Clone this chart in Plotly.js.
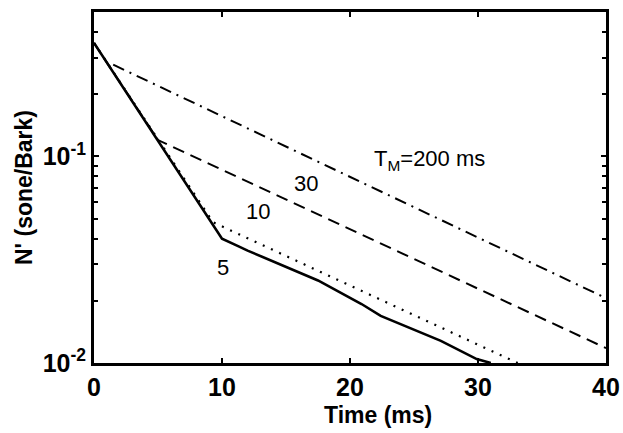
<!DOCTYPE html>
<html>
<head>
<meta charset="utf-8">
<script src="https://cdn.plot.ly/plotly-3.0.1.min.js"></script>
<style>html,body{margin:0;padding:0;background:#fff;}#chart{width:623px;height:433px;}</style>
</head>
<body>
<div id="chart"></div>
<script>
// Time axis (ms) and N' (sone/Bark) values
const time5 = [0, 10, 11.3, 12, 17.5, 20.9, 22.4, 27.1, 29.9, 31.0];
const n5 = [0.354, 0.040, 0.0367, 0.035, 0.0251, 0.0193, 0.0169, 0.0128, 0.01045, 0.0100];
const time10 = [0, 9.3, 33.1];
const n10 = [0.354, 0.048, 0.0100];
const time30 = [0, 5.0, 40];
const n30 = [0.354, 0.120, 0.0118];
const time200 = [1.5, 40];
const n200 = [0.278, 0.0206];

const xTicks = [0, 10, 20, 30, 40];
const yTickVals = [0.01, 0.1];
const yTickText = ['10<sup>-2</sup>', '10<sup>-1</sup>'];
const yMinorVals = [0.02,0.03,0.04,0.05,0.06,0.07,0.08,0.09,0.2,0.3,0.4];

const labels = [
  {text: '30', t: 16.6, n: 0.0741},
  {text: '10', t: 12.8, n: 0.0542},
  {text: '5', t: 10.1, n: 0.0289},
  {text: 'T<sub>M</sub>=200 ms', t: 26.2, n: 0.0965}
];
const xTitle = 'Time (ms)';
const yTitle = "N' (sone/Bark)";

const FONT = 'Liberation Sans, Arial, sans-serif';

const traces = [
  {x: time200, y: n200, mode: 'lines', line: {color: '#000', width: 2, dash: '12px,6px,2px,6px'}},
  {x: time30, y: n30, mode: 'lines', line: {color: '#000', width: 2, dash: '12px,7px'}},
  {x: time10, y: n10, mode: 'lines', line: {color: '#000', width: 2.2, dash: '2px,7px'}},
  {x: time5, y: n5, mode: 'lines', line: {color: '#000', width: 2.6}}
];

const layout = {
  width: 623, height: 433,
  margin: {l: 93.5, r: 16.5, t: 11.5, b: 70},
  paper_bgcolor: '#fff', plot_bgcolor: '#fff',
  showlegend: false,
  font: {family: FONT, color: '#000'},
  xaxis: {
    range: [0, 40], tickvals: xTicks, ticks: 'inside', ticklen: 5, tickwidth: 1.5, tickcolor: '#000',
    showline: true, linecolor: '#000', linewidth: 2.8, mirror: 'allticks', showgrid: false, zeroline: false,
    tickfont: {size: 25, family: FONT, color: '#000', weight: 'bold'}
  },
  yaxis: {
    type: 'log', range: [-2, Math.log10(0.5)], tickvals: yTickVals, ticktext: yTickText,
    ticks: 'inside', ticklen: 5, tickwidth: 1.5, tickcolor: '#000',
    showline: true, linecolor: '#000', linewidth: 2.8, mirror: 'allticks', showgrid: false, zeroline: false,
    tickfont: {size: 25, family: FONT, color: '#000', weight: 'bold'},
    minor: {tickvals: yMinorVals, ticks: 'inside', ticklen: 4, tickwidth: 1.5, tickcolor: '#000', showgrid: false},
    title: {text: yTitle, font: {size: 23, family: FONT, color: '#000', weight: 'bold'}, standoff: 4}
  },
  annotations: labels.map(l => ({
    x: l.t, y: Math.log10(l.n), xref: 'x', yref: 'y', text: l.text, showarrow: false,
    font: {size: 22, family: FONT, color: '#000'}
  })).concat([{
    x: 0.5546, y: -0.147, xref: 'paper', yref: 'paper', xanchor: 'center', yanchor: 'middle',
    text: xTitle, showarrow: false, borderpad: 0, font: {size: 23, family: FONT, color: '#000', weight: 'bold'}
  }])
};

Plotly.newPlot('chart', traces, layout, {displayModeBar: false});
</script>
</body>
</html>
